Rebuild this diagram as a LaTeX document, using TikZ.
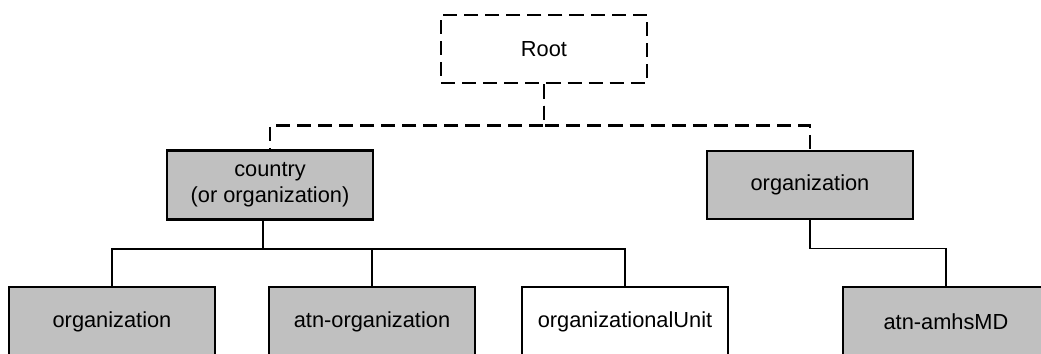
\documentclass[tikz,border=0pt]{standalone}
\usepackage{fontspec}
\setmainfont{Liberation Sans}
\definecolor{boxgray}{RGB}{192,192,192}

\begin{document}
\begin{tikzpicture}[x=0.025cm,y=-0.025cm,
  entry/.style={draw=black,line width=2.1pt,minimum width=206*0.025cm,
    minimum height=69*0.025cm,inner sep=0pt,align=center,
    font=\fontsize{15.5}{18.5}\selectfont},
  grayentry/.style={entry,fill=boxgray},
  dashentry/.style={entry,dash pattern=on 10pt off 5pt,minimum height=68*0.025cm},
  dashlink/.style={line width=2.1pt,dash pattern=on 10pt off 5pt},
  link/.style={line width=0.9pt}]

\path[use as bounding box,clip] (0,0) rectangle (1041,354);

% top of the tree
\node[dashentry] (root) at (544,49) {Root};
\node[grayentry] (country) at (270,185) {country\\(or organization)};
\node[grayentry,minimum height=68*0.025cm] (orgR) at (810,185) {organization};

% bottom row
\node[grayentry] (org) at (112,321.5) {organization};
\node[grayentry] (atnorg) at (372,321.5) {atn-organization};
\node[entry] (ou) at (625,321.5) {organizationalUnit};
\node[grayentry] (amhs) at (946,321.5) {atn-amhsMD};

\draw[dashlink] (root.south) -- ++(0,41) -| (country.north);
\draw[dashlink] (root.south) -- ++(0,41) -| (orgR.north);

% the branch under country sits a little left of centre
\draw[link] ([xshift=-0.175cm]country.south) -- ++(0,28) -| (org.north);
\draw[link] ([xshift=-0.175cm]country.south) -- ++(0,28) -| (atnorg.north);
\draw[link] ([xshift=-0.175cm]country.south) -- ++(0,28) -| (ou.north);
\draw[link] (orgR.south) -- ++(0,28) -| (amhs.north);

\end{tikzpicture}
\end{document}
